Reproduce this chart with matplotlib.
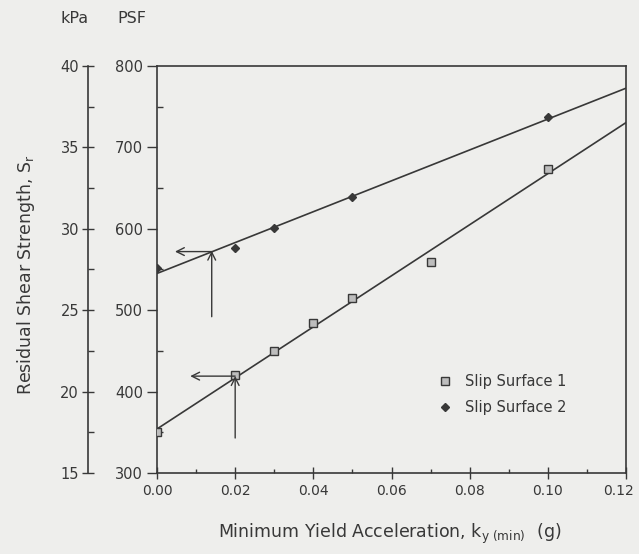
import numpy as np
import matplotlib.pyplot as plt
import matplotlib.transforms as mtransforms

# (PSF vs g)
ky_s1 = [0.00, 0.02, 0.03, 0.04, 0.05, 0.07, 0.10]
sr_s1 = [350, 420, 450, 484, 515, 559, 673]
ky_s2 = [0.00, 0.02, 0.03, 0.05, 0.10]
sr_s2 = [552, 576, 601, 639, 737]

# guide arrows: (x_start, y_start, x_end, y_end)
arrows = [
    (0.020, 343, 0.020, 419),
    (0.020, 419, 0.0085, 419),
    (0.014, 492, 0.014, 573),
    (0.014, 572, 0.0046, 572),
]

paper = '#eeeeec'
ink = '#383838'

fig = plt.figure(figsize=(6.39, 5.54), dpi=100, facecolor=paper)
ax = fig.add_axes([0.2457, 0.1462, 0.734, 0.7347], facecolor=paper)

xfit = np.array([0.0, 0.12])
for kx, sr in [(ky_s1, sr_s1), (ky_s2, sr_s2)]:
    m, b = np.polyfit(kx, sr, 1)
    ax.plot(xfit, m * xfit + b, color=ink, lw=1.2, zorder=2)

ax.plot(ky_s1, sr_s1, ls='none', marker='s', ms=6, mfc='#bdbdbd', mec=ink, mew=1.0,
        label='Slip Surface 1', zorder=3)
ax.plot(ky_s2, sr_s2, ls='none', marker='D', ms=4.5, mfc=ink, mec=ink,
        label='Slip Surface 2', zorder=3)

for x0, y0, x1, y1 in arrows:
    ax.annotate('', xy=(x1, y1), xytext=(x0, y0),
                arrowprops=dict(arrowstyle='->', color=ink, lw=1.0,
                                shrinkA=0, shrinkB=0, mutation_scale=14))

ax.set_xlim(0, 0.12)
ax.set_ylim(300, 800)
ax.set_xticks(np.arange(0, 0.121, 0.02))
ax.set_xticks(np.arange(0.01, 0.12, 0.02), minor=True)
ax.set_yticks(np.arange(300, 801, 100))
ax.set_yticks(np.arange(350, 800, 100), minor=True)
ax.xaxis.set_major_formatter(plt.FuncFormatter(lambda v, p: '%.2f' % v))
ax.tick_params(axis='x', which='major', direction='inout', length=8, width=1.0,
               colors=ink, labelsize=10, pad=4)
ax.tick_params(axis='x', which='minor', direction='in', length=3, width=1.0, colors=ink)
ax.tick_params(axis='y', which='major', direction='out', length=7, width=1.0,
               colors=ink, labelsize=10.5, pad=3)
ax.tick_params(axis='y', which='minor', direction='in', length=4, width=1.0, colors=ink)
for sp in ax.spines.values():
    sp.set_color(ink)
    sp.set_linewidth(1.2)

# last x label sits a little left of its tick, as in the scan
fig.canvas.draw()
last = ax.get_xticklabels()[-1]
last.set_transform(last.get_transform() +
                   mtransforms.ScaledTranslation(-8 / 100, 0, fig.dpi_scale_trans))

# kPa scale on a second spine to the left
kpa = ax.secondary_yaxis(-0.147, functions=(lambda p: p / 20.0, lambda k: k * 20.0))
kpa.set_yticks(np.arange(15, 41, 5))
kpa.set_yticks(np.arange(17.5, 40, 5), minor=True)
kpa.tick_params(which='major', direction='inout', length=9, width=1.0, colors=ink,
                labelsize=10.5, pad=2)
kpa.tick_params(which='minor', direction='in', length=4, width=1.0, colors=ink)
kpa.spines['left'].set_color(ink)
kpa.spines['left'].set_linewidth(1.2)

leg = ax.legend(loc='lower left', bbox_to_anchor=(0.57, 0.11), frameon=False,
                fontsize=10.5, handletextpad=0.9, labelspacing=0.75,
                handlelength=1.0, markerscale=0.85, labelcolor=ink)

fig.text(0.117, 0.966, 'kPa', ha='center', va='center', fontsize=11.5, color=ink)
fig.text(0.207, 0.966, 'PSF', ha='center', va='center', fontsize=11.5, color=ink)
fig.text(0.040, 0.505, 'Residual Shear Strength, $\\mathregular{S_r}$', rotation=90,
         ha='center', va='center', fontsize=12.5, color=ink)
fig.text(0.61, 0.036, 'Minimum Yield Acceleration, $\\mathregular{k_{y\\ (min)}}$  (g)',
         ha='center', va='center', fontsize=12.5, color=ink)

fig.savefig('out.png', dpi=100, facecolor=paper)
